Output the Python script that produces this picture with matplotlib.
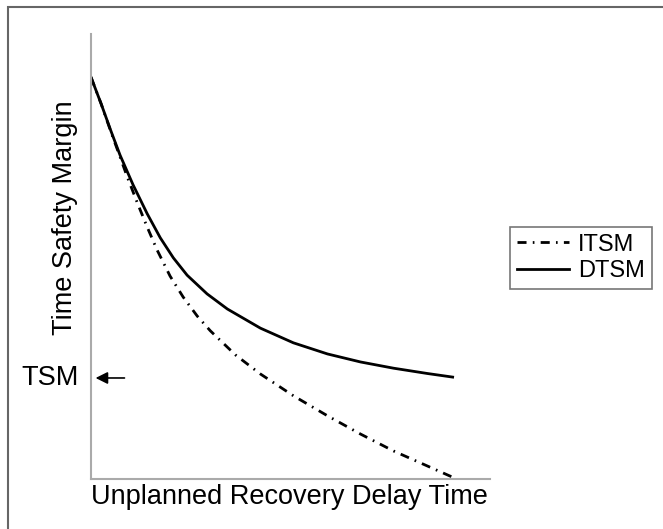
import matplotlib
matplotlib.use('Agg')
import matplotlib.pyplot as plt
from matplotlib.patches import Rectangle

# values (x: delay time, y: safety margin, arbitrary units)
dtsm_x = [0, 0.28, 0.55, 0.80, 1.16, 1.55, 1.91, 2.27, 2.65, 3.20, 3.76, 4.67,
          5.58, 6.52, 7.43, 8.34, 9.28, 9.97]
dtsm_y = [90.3, 84.3, 78.2, 72.8, 66.1, 59.6, 54.2, 49.7, 45.8, 41.6, 38.2, 33.9,
          30.6, 28.1, 26.3, 24.9, 23.7, 22.9]
itsm_x = [0, 0.28, 0.55, 0.80, 0.99, 1.27, 1.55, 1.82, 2.18, 2.54, 2.93, 3.29,
          3.98, 4.67, 5.58, 6.52, 7.43, 8.34, 9.28, 9.97]
itsm_y = [90.3, 84.3, 78.0, 72.4, 68.1, 62.2, 56.6, 51.5, 45.6, 40.9, 36.6, 33.3,
          27.9, 23.6, 18.7, 14.2, 10.1, 6.3, 2.9, 0.4]
tsm_level = 22.7

plt.rcParams['font.family'] = ['Liberation Sans', 'DejaVu Sans']
plt.rcParams['lines.scale_dashes'] = False

W, H = 663, 529
fig = plt.figure(figsize=(W / 100, H / 100), dpi=100)
ax = fig.add_axes([91 / W, 1 - 479 / H, (490 - 91) / W, (479 - 34) / H])

ax.plot(itsm_x, itsm_y, color='black', lw=2.0, dashes=(6.5, 4.5, 1.2, 4.5),
        solid_joinstyle='round', label='ITSM')
ax.plot(dtsm_x, dtsm_y, color='black', lw=2.0, solid_joinstyle='round', label='DTSM')

ax.set_xlim(0, 11.0)
ax.set_ylim(0, 100)
ax.set_xticks([])
ax.set_yticks([])
for s in ['top', 'right']:
    ax.spines[s].set_visible(False)
for s in ['left', 'bottom']:
    ax.spines[s].set_color('#aaaaaa')
    ax.spines[s].set_linewidth(1.5)

fig.text(91 / W, 1 - 497 / H, 'Unplanned Recovery Delay Time', ha='left', va='center', fontsize=19.5)
fig.text(65 / W, 1 - 218 / H, 'Time Safety Margin', ha='center', va='center', rotation=90, fontsize=19.5)

ax.annotate('', xy=(0.05, tsm_level), xytext=(1.0, tsm_level),
            arrowprops=dict(arrowstyle='-|>', color='black', lw=1.2, mutation_scale=18))
fig.text(50 / W, 1 - 378 / H, 'TSM', ha='center', va='center', fontsize=19.5)

leg = ax.legend(loc='center', bbox_to_anchor=(581 / W, 1 - 258 / H), bbox_transform=fig.transFigure,
                fontsize=17, frameon=True, fancybox=False, handlelength=2.2, handletextpad=0.4,
                borderpad=0.3, labelspacing=0.2, borderaxespad=0)
leg.get_frame().set_edgecolor('#555555')
leg.get_frame().set_linewidth(1.2)

# outer border, cut off at the right and bottom
fig.patches.append(Rectangle((8 / W, -0.1), 1.2, 1 - 7 / H + 0.1, transform=fig.transFigure,
                             fill=False, edgecolor='#666666', lw=1.5))

fig.savefig('out.png', dpi=100)
